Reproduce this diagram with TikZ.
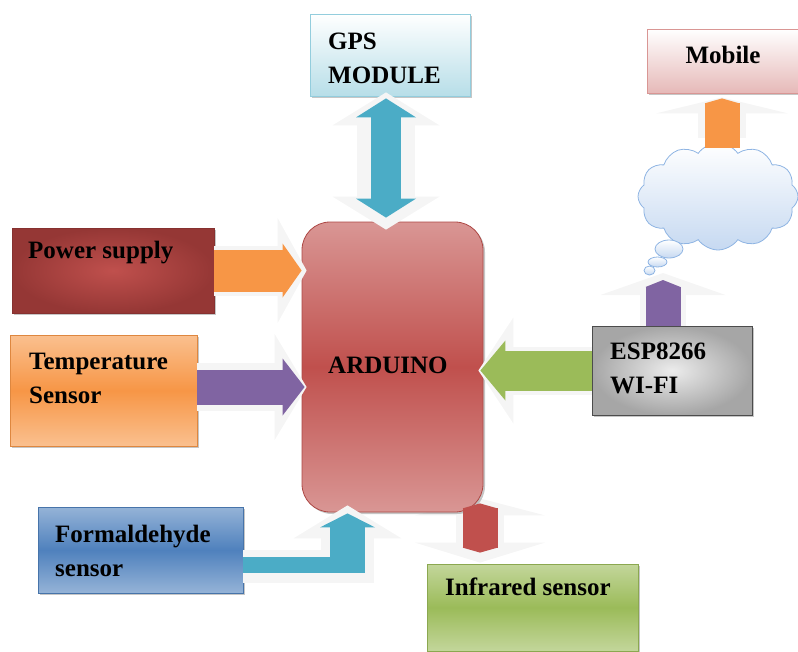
\documentclass[tikz,border=0pt]{standalone}
\usepackage{fontspec}
\setmainfont{Liberation Serif}
\usetikzlibrary{arrows.meta,shapes.symbols,shadows,backgrounds}

\definecolor{gpsfill}{HTML}{B7DEE8}
\definecolor{gpsedge}{HTML}{93CDDD}
\definecolor{mobfill}{HTML}{E6B9B8}
\definecolor{mobedge}{HTML}{D99694}
\definecolor{powin}{HTML}{C0504D}
\definecolor{powout}{HTML}{953735}
\definecolor{orangemid}{HTML}{F79646}
\definecolor{orangelt}{HTML}{FAC08F}
\definecolor{redmid}{HTML}{C0504D}
\definecolor{redlt}{HTML}{D99694}
\definecolor{bluemid}{HTML}{4F81BD}
\definecolor{bluelt}{HTML}{95B3D7}
\definecolor{greenmid}{HTML}{9BBB59}
\definecolor{greenlt}{HTML}{C3D69B}
\definecolor{cloudfill}{HTML}{C6D9F1}
\definecolor{cloudedge}{HTML}{8EB4E3}
\definecolor{tealA}{HTML}{4BACC6}
\definecolor{purpleA}{HTML}{8064A2}

\begin{document}
\begin{tikzpicture}[x=1pt, y=-1pt,
    box/.style={rectangle, inner sep=0pt, line width=0.8pt,
      drop shadow={shadow xshift=2pt, shadow yshift=-2pt, opacity=0.45}},
    lbl/.style={font=\bfseries\fontsize{25}{34}\selectfont, inner sep=0pt, align=left, anchor=base west},
    bubble/.style={draw=cloudedge, line width=0.8pt, top color=white, bottom color=cloudfill},
    halo/.style={draw=gray!8, line join=miter},
    pipe/.style={draw=#1, line join=miter}]
    \useasboundingbox (0,0) rectangle (798,651);

    % Boxes
    \node[box, minimum width=160pt, minimum height=82pt, draw=gpsedge, top color=white, bottom color=gpsfill] (gps) at (390,55) {};
    \node[box, minimum width=156pt, minimum height=64pt, draw=mobedge, top color=white, bottom color=mobfill] (mobile) at (725,61) {};
    \node[box, minimum width=202pt, minimum height=85pt, draw=powout!90!black, inner color=powin, outer color=powout] (power) at (113,270.5) {};
    \node[box, minimum width=187pt, minimum height=111pt, draw=orangemid!90!black, top color=orangelt, bottom color=orangelt, middle color=orangemid] (temp) at (103.5,390.5) {};
    \node[box, minimum width=181pt, minimum height=290pt, rounded corners=28pt, draw=redmid!90!black, top color=redlt, bottom color=redlt, middle color=redmid] (arduino) at (392.5,367) {};
    \node[box, minimum width=205pt, minimum height=86pt, draw=bluemid!90!black, top color=bluelt, bottom color=bluelt, middle color=bluemid] (form) at (140.5,550) {};
    \node[box, minimum width=211pt, minimum height=87pt, draw=greenmid!90!black, top color=greenlt, bottom color=greenlt, middle color=greenmid] (infra) at (532.5,607.5) {};
    \node[box, minimum width=160pt, minimum height=89pt, draw=gray!60!black, inner color=gray!15, outer color=gray!70] (esp) at (672,370.5) {};

    % Cloud
    \node[cloud, cloud puffs=12, cloud puff arc=110, cloud ignores aspect, minimum width=160pt, minimum height=107pt, inner sep=0pt, bubble] (cloud) at (718,196.5) {};
    \draw[bubble] (669,249) ellipse [x radius=14, y radius=9];
    \draw[bubble] (657.5,262) ellipse [x radius=9.5, y radius=5];
    \draw[bubble] (649.5,270.5) ellipse [x radius=5.5, y radius=4.5];

    % Labels
    \node[lbl] (gpstxt) at (328,83) {GPS\\MODULE};
    \node[lbl, anchor=base] (mobtxt) at (723,63) {Mobile};
    \node[lbl] (powtxt) at (28,258) {Power supply};
    \node[lbl] (temptxt) at (29,403) {Temperature\\Sensor};
    \node[lbl] (ardtxt) at (328,373) {ARDUINO};
    \node[lbl] (formtxt) at (55,576) {Formaldehyde\\sensor};
    \node[lbl] (irtxt) at (445,595) {Infrared sensor};
    \node[lbl] (esptxt) at (610,393) {ESP8266\\WI-FI};

    % Connectors
    \coordinate (gx) at (386,0);
    \coordinate (irx) at (480,0);
    \coordinate (fbend) at (347.5,583);
    \coordinate (wifiup) at (663,280);

    \draw[halo, line width=58pt, {Triangle[line width=0pt,length=33pt,width=107pt]}-{Triangle[line width=0pt,length=33pt,width=107pt]}, shorten <=-4pt, shorten >=-8pt] (gps.south -| gx) -- (arduino.north -| gx);
    \draw[pipe=tealA, line width=30pt, {Triangle[line width=0pt,length=19pt,width=60pt]}-{Triangle[line width=0pt,length=19pt,width=60pt]}, shorten <=2pt, shorten >=4pt] (gps.south -| gx) -- (arduino.north -| gx);

    \draw[halo, line width=50pt, -{Triangle[line width=0pt,length=29pt,width=105pt]}, shorten >=-5pt] (power.east) -- (power.east -| arduino.west);
    \draw[pipe=orangemid, line width=42pt, -{Triangle[line width=0pt,length=19pt,width=54pt]}] (power.east) -- (power.east -| arduino.west);

    \draw[halo, line width=48pt, -{Triangle[line width=0pt,length=32pt,width=106pt]}, shorten >=-5pt] ([yshift=3.5pt]temp.east) -- ([yshift=3.5pt]temp.east -| arduino.west);
    \draw[pipe=purpleA, line width=35pt, -{Triangle[line width=0pt,length=22pt,width=57pt]}, shorten >=-3pt] ([yshift=3.5pt]temp.east) -- ([yshift=3.5pt]temp.east -| arduino.west);

    \draw[halo, line width=48pt, -{Triangle[line width=0pt,length=35pt,width=106pt]}, shorten >=-5pt] (esp.west) -- (esp.west -| arduino.east);
    \draw[pipe=greenmid, line width=40pt, -{Triangle[line width=0pt,length=25pt,width=60pt]}, shorten >=-3pt] (esp.west) -- (esp.west -| arduino.east);

    \draw[halo, line width=46pt, -{Triangle[line width=0pt,length=22pt,width=125pt]}, shorten >=-7pt] ([xshift=-9pt]esp.north) -- (wifiup);
    \draw[pipe=purpleA, line width=35pt, -{Triangle[line width=0pt,length=7pt,width=35pt]}] ([xshift=-9pt]esp.north) -- (wifiup);

    \draw[halo, line width=48pt, -{Triangle[line width=0pt,length=16pt,width=132pt]}, shorten <=5pt, shorten >=4pt] ([xshift=-3pt]mobile.south |- cloud.north) -- ([xshift=-3pt]mobile.south);
    \draw[pipe=orangemid, line width=35pt, -{Triangle[line width=0pt,length=5pt,width=35pt]}, shorten <=-5pt, shorten >=5pt] ([xshift=-3pt]mobile.south |- cloud.north) -- ([xshift=-3pt]mobile.south);

    \draw[halo, line width=33pt] ([yshift=16.5pt]fbend -| form.east) -- ([xshift=26.5pt, yshift=16.5pt]fbend);
    \draw[halo, line width=53pt, -{Triangle[line width=0pt,length=33pt,width=108pt]}, shorten >=-7pt] (fbend) -- (arduino.south -| fbend);
    \draw[pipe=tealA, line width=16pt] ([yshift=18.5pt]fbend -| form.east) -- ([xshift=17.5pt, yshift=18.5pt]fbend);
    \draw[pipe=tealA, line width=35pt, -{Triangle[line width=0pt,length=14pt,width=55pt]}, shorten >=1pt] ([yshift=11pt]fbend) -- (arduino.south -| fbend);

    \begin{pgfonlayer}{background}
    \draw[halo, line width=48pt, {Triangle[line width=0pt,length=17pt,width=130pt]}-{Triangle[line width=0pt,length=20pt,width=130pt]}, shorten <=-14pt, shorten >=1pt] (arduino.south -| irx) -- (infra.north -| irx);
    \end{pgfonlayer}
    \draw[pipe=redmid, line width=35pt, {Triangle[line width=0pt,length=5pt,width=35pt]}-{Triangle[line width=0pt,length=5pt,width=35pt]}, shorten <=-9pt, shorten >=11pt] (arduino.south -| irx) -- (infra.north -| irx);
\end{tikzpicture}
\end{document}
